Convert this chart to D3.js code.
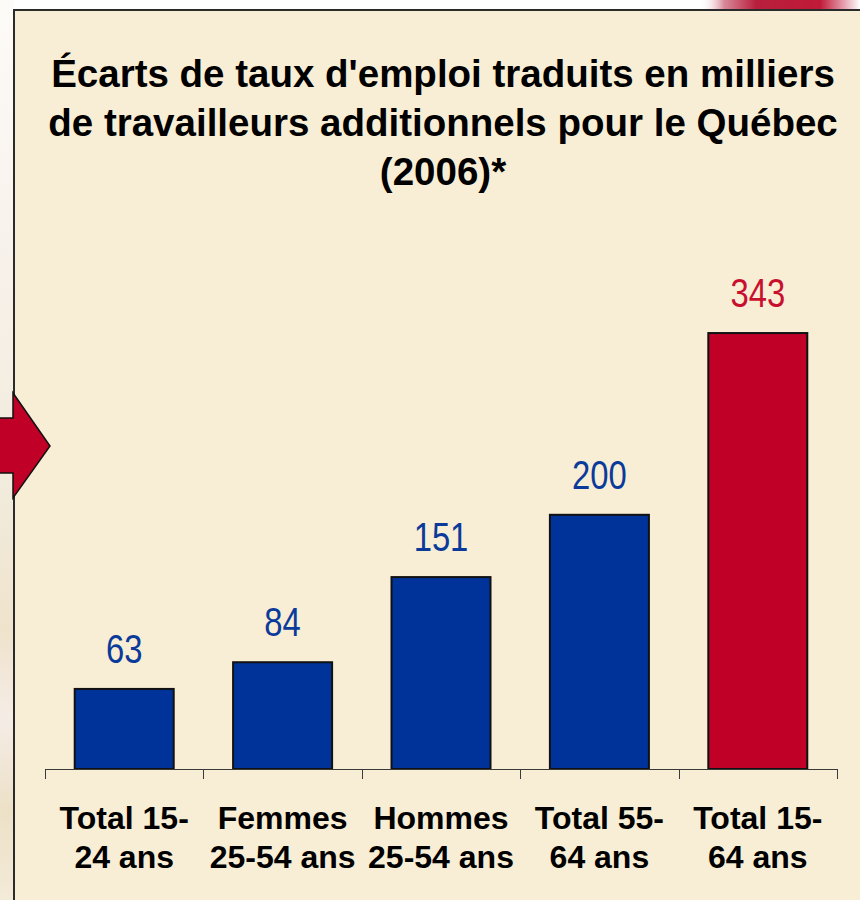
<!DOCTYPE html>
<html>
<head>
<meta charset="utf-8">
<script src="https://cdn.jsdelivr.net/npm/d3@7"></script>
<style>
  html, body { margin: 0; padding: 0; background: #fff; }
  svg { display: block; }
</style>
</head>
<body>
<div id="chart"></div>
<script>
// data
var categories = [["Total 15-", "24 ans"], ["Femmes", "25-54 ans"], ["Hommes", "25-54 ans"], ["Total 55-", "64 ans"], ["Total 15-", "64 ans"]];
var values = [63, 84, 151, 200, 343];
var highlight = [false, false, false, false, true];
var titleLines = ["Écarts de taux d'emploi traduits en milliers", "de travailleurs additionnels pour le Québec", "(2006)*"];

var W = 860, H = 900;
var svg = d3.select("#chart").append("svg").attr("width", W).attr("height", H);
var defs = svg.append("defs");

// slide background bits outside the panel
var lg = defs.append("linearGradient").attr("id", "leftStrip").attr("x1", 0).attr("y1", 0).attr("x2", 0).attr("y2", 1);
[[0, "#fdfbf8"], [0.3, "#f7f1ea"], [0.55, "#f1ebdc"], [0.7, "#efe3cc"], [0.8, "#f5ece6"], [0.9, "#ece1c7"], [1, "#f3ead8"]].forEach(function(s) {
  lg.append("stop").attr("offset", s[0]).attr("stop-color", s[1]);
});
svg.append("rect").attr("x", 0).attr("y", 0).attr("width", 14).attr("height", H).attr("fill", "url(#leftStrip)");

var sw = defs.append("linearGradient").attr("id", "swoosh").attr("x1", 0).attr("y1", 0).attr("x2", 1).attr("y2", 0);
[[0, "#ffffff", 0], [0.15, "#d88a9a", 1], [0.35, "#b81f3c", 1], [0.75, "#c01a38", 1], [0.9, "#e6a0b0", 1], [1, "#ffffff", 1]].forEach(function(s) {
  sw.append("stop").attr("offset", s[0]).attr("stop-color", s[1]).attr("stop-opacity", s[2]);
});
svg.append("path")
    .attr("d", "M700,0 L860,0 L860,9 L700,9 Z")
    .attr("fill", "url(#swoosh)");

// panel
svg.append("rect")
    .attr("x", 14).attr("y", 10).attr("width", W).attr("height", H)
    .attr("fill", "#f8eed5")
    .attr("stroke", "#2b2b2b").attr("stroke-width", 2);

// arrow on the left
svg.append("path")
    .attr("d", "M-5,418 L13,418 L13,393 L50,446 L13,498 L13,473 L-5,473 Z")
    .attr("fill", "#c00027")
    .attr("stroke", "#111").attr("stroke-width", 1.5);

// title
svg.append("g").selectAll("text")
    .data(titleLines)
  .enter().append("text")
    .attr("x", 443)
    .attr("y", function(d, i) { return 87 + i * 49; })
    .attr("text-anchor", "middle")
    .attr("font-family", "Liberation Sans, Arial, sans-serif")
    .attr("font-weight", "bold")
    .attr("font-size", 38.5)
    .attr("fill", "#000")
    .text(function(d) { return d; });

// scales
var x = d3.scaleBand()
    .domain(d3.range(values.length))
    .range([45, 837])
    .paddingInner(0.375)
    .paddingOuter(0.1875);

var y = d3.scaleLinear()
    .domain([0, 350])
    .range([769, 769 - 350 * 1.271]);

// bars
svg.append("g").selectAll("rect")
    .data(values)
  .enter().append("rect")
    .attr("x", function(d, i) { return x(i); })
    .attr("y", function(d) { return y(d); })
    .attr("width", x.bandwidth())
    .attr("height", function(d) { return y(0) - y(d); })
    .attr("fill", function(d, i) { return highlight[i] ? "#c00027" : "#003399"; })
    .attr("stroke", "#111").attr("stroke-width", 2);

// value labels (condensed look via horizontal squeeze)
svg.append("g").selectAll("text")
    .data(values)
  .enter().append("text")
    .attr("transform", function(d, i) {
      return "translate(" + (x(i) + x.bandwidth() / 2) + "," + (y(d) - 26) + ") scale(0.8,1)";
    })
    .attr("text-anchor", "middle")
    .attr("font-family", "Liberation Sans, Arial, sans-serif")
    .attr("font-size", 41)
    .attr("fill", function(d, i) { return highlight[i] ? "#c8102e" : "#0a3a9a"; })
    .text(function(d) { return d; });

// axis line with ticks between categories
var step = x.step();
var ticks = d3.range(values.length + 1).map(function(i) { return 45 + i * step; });
var ax = svg.append("g").attr("stroke", "#3a3a3a").attr("stroke-width", 1);
ax.append("line").attr("x1", 45).attr("x2", 837).attr("y1", 769.5).attr("y2", 769.5);
ax.selectAll(".tk").data(ticks).enter().append("line")
    .attr("x1", function(d) { return Math.round(d) + 0.5; })
    .attr("x2", function(d) { return Math.round(d) + 0.5; })
    .attr("y1", 769).attr("y2", 779);

// category labels
var cat = svg.append("g").selectAll("text")
    .data(categories)
  .enter().append("text")
    .attr("text-anchor", "middle")
    .attr("font-family", "Liberation Sans, Arial, sans-serif")
    .attr("font-weight", "bold")
    .attr("font-size", 32)
    .attr("fill", "#000");
cat.each(function(d, i) {
  var t = d3.select(this);
  var cx = x(i) + x.bandwidth() / 2;
  d.forEach(function(line, j) {
    t.append("tspan").attr("x", cx).attr("y", 829 + j * 39).text(line);
  });
});
</script>
</body>
</html>
